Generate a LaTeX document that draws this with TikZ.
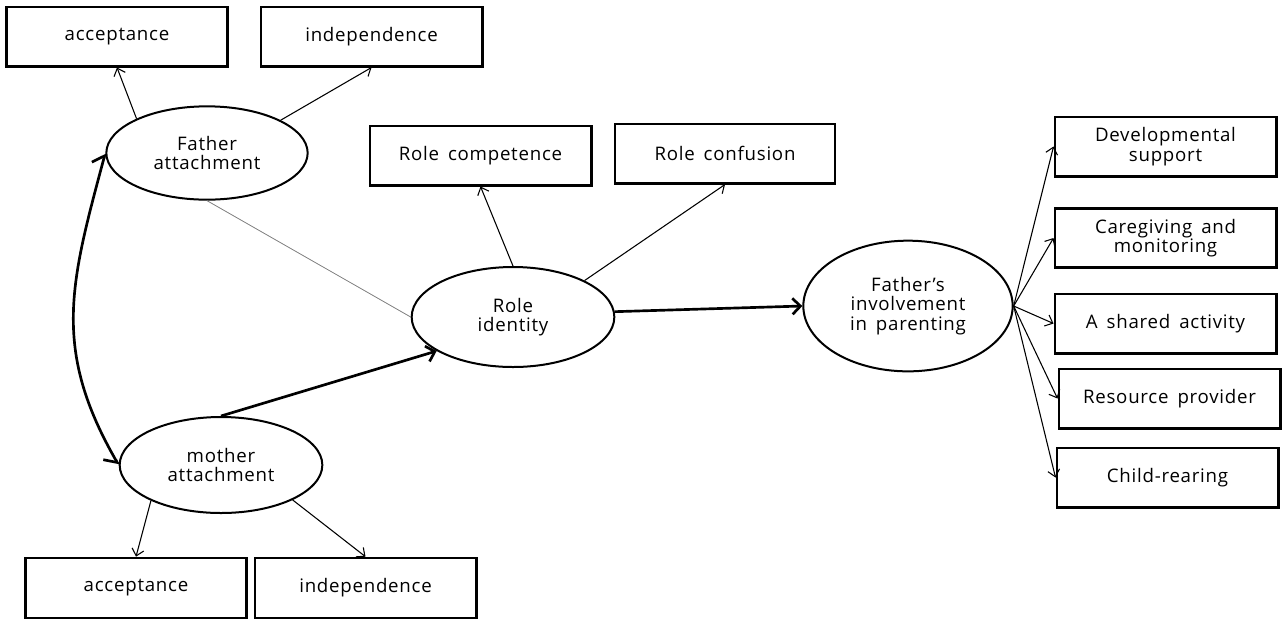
\documentclass[tikz,border=0pt]{standalone}
\usepackage{fontspec}
\setmainfont{Open Sans}[LetterSpace=4, WordSpace=1.6]
\usepackage{tikz}
\usetikzlibrary{positioning, shapes.geometric, arrows.meta}

\begin{document}
\begin{tikzpicture}[
  x=0.75pt, y=0.75pt,
  every node/.style={font=\fontsize{14}{14.5}\selectfont, align=center},
  box/.style={draw, line width=2pt, inner sep=0pt,
    minimum width=166pt, minimum height=44.5pt},
  latent/.style={ellipse, draw, line width=1.5pt, inner sep=0pt},
  thinarr/.style={line width=0.8pt, -{Straight Barb[length=5pt, width=9pt]}},
  thickarr/.style={line width=2pt, -{Straight Barb[length=6pt, width=12pt]}},
  covarr/.style={line width=2pt,
    {Straight Barb[harpoon, length=7pt, width=16pt]}-{Straight Barb[harpoon, swap, length=7pt, width=16pt]}},
]
  \useasboundingbox (0,0) rectangle (1284,-619);

  % latent variables
  \node[latent, minimum width=151pt, minimum height=70pt] (fatt) at (207,-153) {Father\\attachment};
  \node[latent, minimum width=152pt, minimum height=72pt] (matt) at (221,-465) {mother\\attachment};
  \node[latent, minimum width=152pt, minimum height=75pt] (rid) at (513,-317) {Role\\identity};
  \node[latent, minimum width=157pt, minimum height=98pt] (inv) at (908,-306)
    {Father’s\\involvement\\in parenting};

  % indicators of father attachment
  \node[box] (facc) at (117,-36.5) {acceptance};
  \node[box] (find) at (371.5,-36.5) {independence};
  % indicators of mother attachment
  \node[box, minimum height=45pt] (macc) at (136,-588) {acceptance};
  \node[box, minimum height=45pt] (mind) at (365.5,-588) {independence};
  % indicators of role identity
  \node[box] (rcomp) at (480.5,-155.5) {Role competence};
  \node[box, minimum width=165pt] (rconf) at (725,-153.5) {Role confusion};
  % indicators of involvement
  \foreach \nm/\xx/\yy/\txt in {dev/1165.5/146.5/{Developmental\\support},
      care/1165.5/238/{Caregiving and\\monitoring},
      shared/1165.5/323.5/{A shared activity},
      res/1169.5/398.5/{Resource provider},
      child/1167.5/477.5/{Child-rearing}} {
    \node[box] (\nm) at (\xx,-\yy) {\txt};
  }

  % measurement paths
  \draw[thinarr] (fatt.154) -- (facc.south);
  \draw[thinarr] (fatt.24) -- (find.south);
  \draw[thinarr] (matt.207) -- (macc.north);
  \draw[thinarr] (matt.-26) -- (mind.north);
  \draw[thinarr] (rid.north) -- (rcomp.south);
  \draw[thinarr] (rid.27) -- (rconf.south);
  \foreach \nm in {dev, care, shared, res, child}
    \draw[thinarr] (inv.east) -- (\nm.west);

  % structural paths
  \draw[gray, line width=0.6pt] (fatt.south) -- (rid.west);
  \draw[thickarr] (matt.north) -- (rid.204);
  \draw[thickarr] (rid.3) -- (inv.west);
  \draw[covarr] (fatt.west) to[out=255, in=120, looseness=1.1] (matt.west);
\end{tikzpicture}
\end{document}
